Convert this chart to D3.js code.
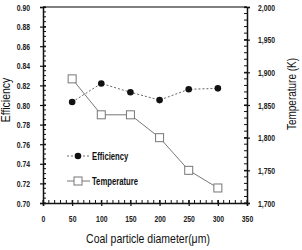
<!DOCTYPE html>
<html>
<head>
<meta charset="utf-8">
<script src="https://cdn.jsdelivr.net/npm/d3@7"></script>
<style>
  body { margin: 0; background: #fff; }
  svg { display: block; }
  .tick text { font-family: "Liberation Sans", Arial, sans-serif; font-weight: bold; font-size: 9.5px; fill: #222; }
  .title { font-family: "Liberation Sans", Arial, sans-serif; font-size: 12.5px; fill: #111; }
  .legend text { font-family: "Liberation Sans", Arial, sans-serif; font-weight: bold; font-size: 11px; fill: #111; }
</style>
</head>
<body>
<div id="chart"></div>
<script>
// data
var diameters = [50, 100, 150, 200, 250, 300];
var efficiency = [0.803, 0.822, 0.813, 0.805, 0.816, 0.817];
var temperature = [1890, 1835, 1835, 1800, 1750, 1723];

var xTicks = [0, 50, 100, 150, 200, 250, 300, 350];
var effTicks = [0.70, 0.72, 0.74, 0.76, 0.78, 0.80, 0.82, 0.84, 0.86, 0.88, 0.90];
var tempTicks = [1700, 1750, 1800, 1850, 1900, 1950, 2000];

var width = 302, height = 250;
var margin = {top: 7, right: 55, bottom: 47, left: 43};
var squeeze = 0.72; // labels in the picture are a condensed face

var svg = d3.select("#chart").append("svg")
    .attr("width", width)
    .attr("height", height);

var x = d3.scaleLinear().domain([0, 350]).range([margin.left, width - margin.right]);
var yE = d3.scaleLinear().domain([0.70, 0.90]).range([height - margin.bottom, margin.top]);
var yT = d3.scaleLinear().domain([1700, 2000]).range([height - margin.bottom, margin.top]);

var x0 = margin.left, x1 = width - margin.right;
var y0 = height - margin.bottom, y1 = margin.top;

function condense(sel) {
  sel.each(function() {
    var t = d3.select(this);
    var tx = +t.attr("x") || 0;
    t.attr("x", tx / squeeze).attr("transform", "scale(" + squeeze + ",1)");
  });
}

// top frame line
svg.append("line")
  .attr("x1", x0).attr("x2", x1)
  .attr("y1", y1).attr("y2", y1)
  .attr("stroke", "#555").attr("stroke-width", 1.5);

// minor ticks (inside)
var g = svg.append("g").attr("stroke", "#111").attr("stroke-width", 1);
g.selectAll(".mx").data(d3.range(0, 351, 10)).enter().append("line")
  .attr("x1", function(d) { return x(d); }).attr("x2", function(d) { return x(d); })
  .attr("y1", y0).attr("y2", y0 - 3);
g.selectAll(".me").data(d3.range(0, 41).map(function(i) { return 0.70 + i * 0.005; })).enter().append("line")
  .attr("x1", x0).attr("x2", x0 + 3)
  .attr("y1", function(d) { return yE(d); }).attr("y2", function(d) { return yE(d); });
g.selectAll(".mt").data(d3.range(1700, 2001, 10)).enter().append("line")
  .attr("x1", x1).attr("x2", x1 - 3)
  .attr("y1", function(d) { return yT(d); }).attr("y2", function(d) { return yT(d); });

// axes
var xAxis = svg.append("g")
    .attr("transform", "translate(0," + y0 + ")")
    .call(d3.axisBottom(x).tickValues(xTicks).tickSize(3).tickPadding(9).tickFormat(d3.format("d")));
xAxis.selectAll(".tick line").attr("y1", -3);
xAxis.selectAll(".tick text").call(condense);

var yAxisL = svg.append("g")
    .attr("transform", "translate(" + x0 + ",0)")
    .call(d3.axisLeft(yE).tickValues(effTicks).tickSize(3).tickPadding(10).tickFormat(d3.format(".2f")));
yAxisL.selectAll(".tick line").attr("x1", 3);
yAxisL.selectAll(".tick text").call(condense);

var yAxisR = svg.append("g")
    .attr("transform", "translate(" + x1 + ",0)")
    .call(d3.axisRight(yT).tickValues(tempTicks).tickSize(3).tickPadding(8).tickFormat(d3.format(",")));
yAxisR.selectAll(".tick line").attr("x1", -3);
yAxisR.selectAll(".tick text").call(condense);

svg.selectAll(".domain").attr("stroke", "#111").attr("stroke-width", 1.5);
svg.selectAll(".tick line").attr("stroke", "#111").attr("stroke-width", 1.2);

// titles
svg.append("text").attr("class", "title")
  .attr("transform", "translate(" + ((x0 + x1) / 2 + 3) + ",243) scale(0.84,1)")
  .attr("text-anchor", "middle")
  .text("Coal particle diameter(\u03bcm)");
svg.append("text").attr("class", "title")
  .attr("transform", "translate(10,100) rotate(-90) scale(0.84,1)")
  .attr("text-anchor", "middle")
  .text("Efficiency");
svg.append("text").attr("class", "title")
  .attr("transform", "translate(296,94) rotate(-90) scale(0.8,1)")
  .attr("text-anchor", "middle")
  .text("Temperature (K)");

// series
var effLine = d3.line()
    .x(function(d, i) { return x(diameters[i]); })
    .y(function(d) { return yE(d); });
var tempLine = d3.line()
    .x(function(d, i) { return x(diameters[i]); })
    .y(function(d) { return yT(d); });

svg.append("path").datum(efficiency)
  .attr("d", effLine)
  .attr("fill", "none").attr("stroke", "#666").attr("stroke-width", 1)
  .attr("stroke-dasharray", "2,2");
svg.append("path").datum(temperature)
  .attr("d", tempLine)
  .attr("fill", "none").attr("stroke", "#777").attr("stroke-width", 1);

svg.selectAll(".effpt").data(efficiency).enter().append("circle")
  .attr("cx", function(d, i) { return x(diameters[i]); })
  .attr("cy", function(d) { return yE(d); })
  .attr("r", 3.3)
  .attr("fill", "#111");
svg.selectAll(".temppt").data(temperature).enter().append("rect")
  .attr("x", function(d, i) { return x(diameters[i]) - 4; })
  .attr("y", function(d) { return yT(d) - 4; })
  .attr("width", 8).attr("height", 8)
  .attr("fill", "#fff").attr("stroke", "#777").attr("stroke-width", 1);

// legend
var legend = svg.append("g").attr("class", "legend");
legend.append("line")
  .attr("x1", 67).attr("x2", 90).attr("y1", 156).attr("y2", 156)
  .attr("stroke", "#666").attr("stroke-dasharray", "2,2");
legend.append("circle").attr("cx", 78).attr("cy", 156).attr("r", 3.3).attr("fill", "#111");
legend.append("text").attr("x", 92 / 0.7).attr("y", 160)
  .attr("transform", "scale(0.7,1)").text("Efficiency");
legend.append("line")
  .attr("x1", 67).attr("x2", 90).attr("y1", 181).attr("y2", 181)
  .attr("stroke", "#777");
legend.append("rect").attr("x", 74).attr("y", 177).attr("width", 8).attr("height", 8)
  .attr("fill", "#fff").attr("stroke", "#777");
legend.append("text").attr("x", 92 / 0.7).attr("y", 185)
  .attr("transform", "scale(0.7,1)").text("Temperature");
</script>
</body>
</html>
